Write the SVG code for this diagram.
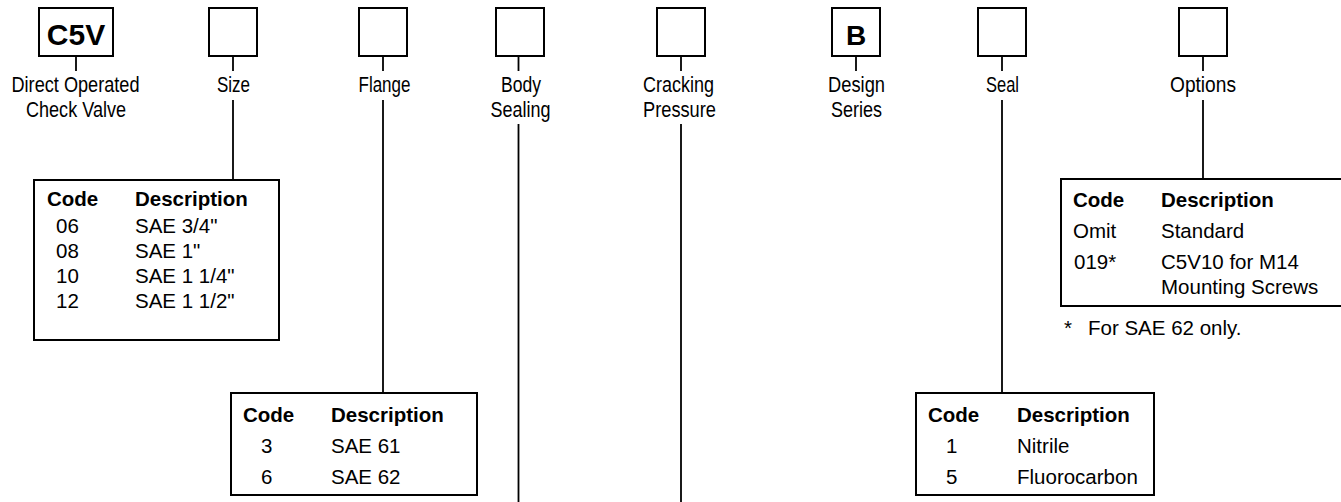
<svg xmlns="http://www.w3.org/2000/svg" width="1341" height="502" viewBox="0 0 1341 502">
<style>
.box{fill:#fff;stroke:#000;stroke-width:2}
.ln{stroke:#000;stroke-width:1.8;fill:none}
.lbl{font-family:"Liberation Sans Narrow","Liberation Sans",Arial,sans-serif;font-size:22px;fill:#000;text-anchor:middle}
.t{font-family:"Liberation Sans",Arial,sans-serif;font-size:20.5px;fill:#000}
.th{font-family:"Liberation Sans",Arial,sans-serif;font-size:20.5px;font-weight:bold;fill:#000}
.big{font-family:"Liberation Sans",Arial,sans-serif;font-weight:bold;fill:#000;text-anchor:middle}
</style>
<rect width="1341" height="502" fill="#fff"/>
<g id="connectors">
<line class="ln" x1="76" y1="56" x2="76" y2="71"/>
<line class="ln" x1="233" y1="56" x2="233" y2="71"/>
<line class="ln" x1="383" y1="56" x2="383" y2="71"/>
<line class="ln" x1="518.5" y1="56" x2="518.5" y2="71"/>
<line class="ln" x1="681" y1="56" x2="681" y2="71"/>
<line class="ln" x1="856" y1="56" x2="856" y2="71"/>
<line class="ln" x1="1002" y1="56" x2="1002" y2="71"/>
<line class="ln" x1="1203" y1="56" x2="1203" y2="71"/>
<line class="ln" x1="233" y1="100" x2="233" y2="180"/>
<line class="ln" x1="383" y1="100" x2="383" y2="393"/>
<line class="ln" x1="518.5" y1="124" x2="518.5" y2="502"/>
<line class="ln" x1="681" y1="124" x2="681" y2="502"/>
<line class="ln" x1="1002" y1="100" x2="1002" y2="393"/>
<line class="ln" x1="1203" y1="100" x2="1203" y2="179"/>
</g>
<g id="node-c5v">
<rect class="box" x="39" y="8" width="74" height="48"/>
<text class="big" x="76" y="45" font-size="30">C5V</text>
<text class="lbl" x="75.5" y="92" textLength="128" lengthAdjust="spacingAndGlyphs">Direct Operated</text>
<text class="lbl" x="76" y="117" textLength="100" lengthAdjust="spacingAndGlyphs">Check Valve</text>
</g>
<g id="node-size">
<rect class="box" x="209" y="8" width="48" height="48"/>
<text class="lbl" x="233.5" y="92" textLength="33" lengthAdjust="spacingAndGlyphs">Size</text>
</g>
<g id="node-flange">
<rect class="box" x="359" y="8" width="48" height="48"/>
<text class="lbl" x="384.5" y="92" textLength="52" lengthAdjust="spacingAndGlyphs">Flange</text>
</g>
<g id="node-body">
<rect class="box" x="496" y="8" width="48" height="48"/>
<text class="lbl" x="521" y="92" textLength="40" lengthAdjust="spacingAndGlyphs">Body</text>
<text class="lbl" x="520.5" y="117" textLength="60" lengthAdjust="spacingAndGlyphs">Sealing</text>
</g>
<g id="node-cracking">
<rect class="box" x="657" y="8" width="48" height="48"/>
<text class="lbl" x="678.5" y="92" textLength="71" lengthAdjust="spacingAndGlyphs">Cracking</text>
<text class="lbl" x="679.5" y="117" textLength="73" lengthAdjust="spacingAndGlyphs">Pressure</text>
</g>
<g id="node-design">
<rect class="box" x="832" y="8" width="48" height="48"/>
<text class="big" x="856" y="45" font-size="28">B</text>
<text class="lbl" x="856.5" y="92" textLength="57" lengthAdjust="spacingAndGlyphs">Design</text>
<text class="lbl" x="856.5" y="117" textLength="51" lengthAdjust="spacingAndGlyphs">Series</text>
</g>
<g id="node-seal">
<rect class="box" x="978" y="8" width="48" height="48"/>
<text class="lbl" x="1002.5" y="92" textLength="33" lengthAdjust="spacingAndGlyphs">Seal</text>
</g>
<g id="node-options">
<rect class="box" x="1179" y="8" width="48" height="48"/>
<text class="lbl" x="1203" y="92" textLength="66" lengthAdjust="spacingAndGlyphs">Options</text>
</g>
<g id="table-size">
<rect class="box" x="34" y="180" width="245" height="160"/>
<text class="th" x="47" y="206">Code</text>
<text class="th" x="135" y="206">Description</text>
<text class="t" x="56" y="233">06</text><text class="t" x="135" y="233">SAE 3/4"</text>
<text class="t" x="56" y="258">08</text><text class="t" x="135" y="258">SAE 1"</text>
<text class="t" x="56" y="283">10</text><text class="t" x="135" y="283">SAE 1 1/4"</text>
<text class="t" x="56" y="308">12</text><text class="t" x="135" y="308">SAE 1 1/2"</text>
</g>
<g id="table-flange">
<rect class="box" x="231" y="393" width="246" height="102"/>
<text class="th" x="243" y="422">Code</text>
<text class="th" x="331" y="422">Description</text>
<text class="t" x="261" y="453">3</text><text class="t" x="331" y="453">SAE 61</text>
<text class="t" x="261" y="484">6</text><text class="t" x="331" y="484">SAE 62</text>
</g>
<g id="table-seal">
<rect class="box" x="916" y="393" width="238" height="102"/>
<text class="th" x="928" y="422">Code</text>
<text class="th" x="1017" y="422">Description</text>
<text class="t" x="946" y="453">1</text><text class="t" x="1017" y="453">Nitrile</text>
<text class="t" x="946" y="484">5</text><text class="t" x="1017" y="484">Fluorocarbon</text>
</g>
<g id="table-options">
<rect class="box" x="1061" y="179" width="290" height="127"/>
<text class="th" x="1073" y="206.5">Code</text>
<text class="th" x="1161" y="206.5">Description</text>
<text class="t" x="1073" y="237.5">Omit</text><text class="t" x="1161" y="237.5">Standard</text>
<text class="t" x="1074" y="269">019*</text><text class="t" x="1161" y="269">C5V10 for M14</text>
<text class="t" x="1161" y="294">Mounting Screws</text>
<text class="t" x="1064" y="335">*</text>
<text class="t" x="1088" y="335">For SAE 62 only.</text>
</g>
</svg>
